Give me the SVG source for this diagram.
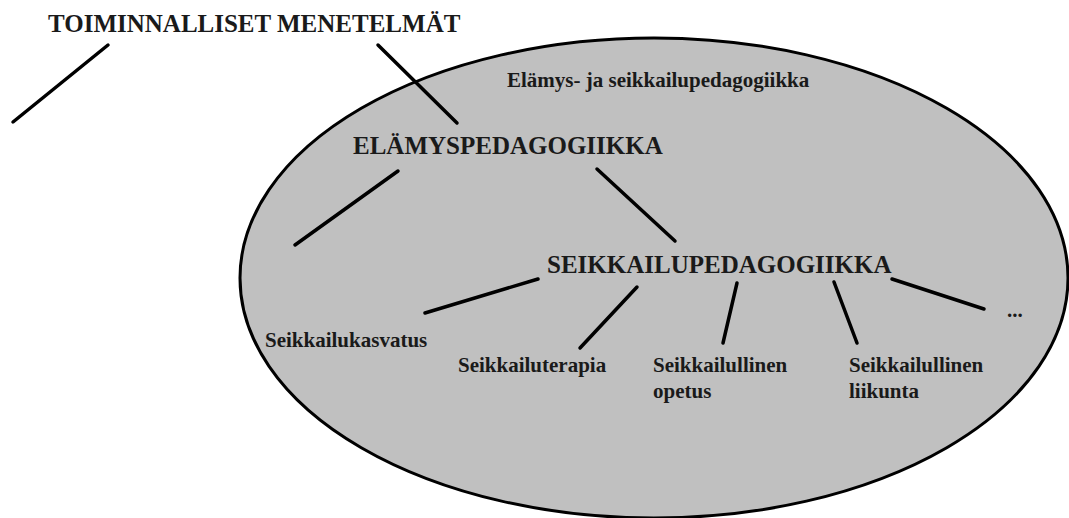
<svg xmlns="http://www.w3.org/2000/svg" width="1069" height="518" viewBox="0 0 1069 518">
<style>
text{font-family:"Liberation Serif","Times New Roman",serif;font-weight:bold;fill:#1a1a1a}
.big{font-size:25px}
.sm{font-size:21px}
.ln{stroke:#000;stroke-width:3.5;stroke-linecap:round;fill:none}
</style>
<rect width="1069" height="518" fill="#fff"/>
<g id="ellipse-node">
<ellipse cx="654" cy="278" rx="414" ry="240" fill="#c0c0c0" stroke="#000" stroke-width="3"/>
<text class="sm" x="507" y="87">Elämys- ja seikkailupedagogiikka</text>
</g>
<g id="connectors">
<line class="ln" x1="108" y1="45" x2="13" y2="122"/>
<line class="ln" x1="378" y1="45" x2="457" y2="123"/>
<line class="ln" x1="398" y1="171" x2="295" y2="245"/>
<line class="ln" x1="597" y1="169" x2="675" y2="241"/>
<line class="ln" x1="538" y1="279" x2="425" y2="313"/>
<line class="ln" x1="637" y1="287" x2="580" y2="348"/>
<line class="ln" x1="737" y1="283" x2="723" y2="343"/>
<line class="ln" x1="834" y1="282" x2="857" y2="343"/>
<line class="ln" x1="892" y1="279" x2="984" y2="309"/>
</g>
<g id="toiminnalliset"><text class="big" x="48" y="32">TOIMINNALLISET MENETELMÄT</text></g>
<g id="elamyspedagogiikka"><text class="big" x="353" y="154">ELÄMYSPEDAGOGIIKKA</text></g>
<g id="seikkailupedagogiikka"><text class="big" x="547" y="273">SEIKKAILUPEDAGOGIIKKA</text></g>
<g id="seikkailukasvatus"><text class="sm" x="265" y="347">Seikkailukasvatus</text></g>
<g id="seikkailuterapia"><text class="sm" x="458" y="372">Seikkailuterapia</text></g>
<g id="opetus"><text class="sm" x="653" y="372">Seikkailullinen</text><text class="sm" x="653" y="398">opetus</text></g>
<g id="liikunta"><text class="sm" x="849" y="372">Seikkailullinen</text><text class="sm" x="849" y="398">liikunta</text></g>
<g id="more"><text class="sm" x="1007" y="317">...</text></g>
</svg>
